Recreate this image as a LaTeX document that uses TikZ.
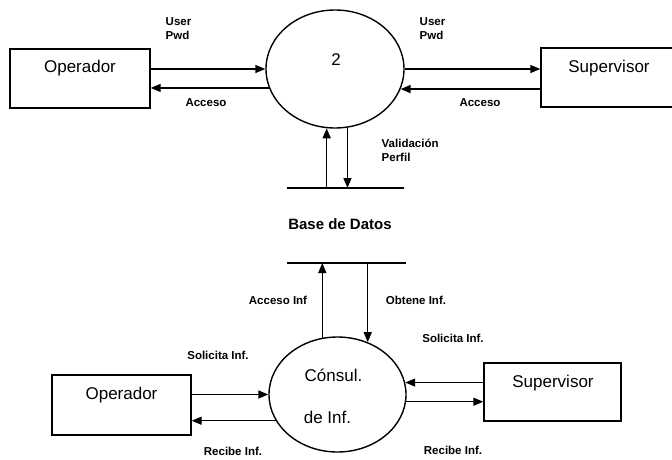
\documentclass[tikz,border=0pt]{standalone}
\usepackage{fontspec}
\setmainfont{Liberation Sans}
\usetikzlibrary{shapes.geometric,arrows.meta}
\begin{document}
\begin{tikzpicture}[x=1pt,y=-1pt, line width=1.4pt,
  flow/.style={-{Triangle[length=10pt,width=8pt]}},
  box/.style={draw,rectangle,inner sep=0pt},
  proc/.style={draw,ellipse,inner sep=0pt},
  big/.style={font=\fontsize{17}{20}\selectfont, inner sep=0pt},
  lbl/.style={font=\bfseries\fontsize{11.5}{14}\selectfont, align=left, inner sep=0pt},
  store/.style={font=\bfseries\fontsize{15}{18}\selectfont, inner sep=0pt}]
\useasboundingbox (0,0) rectangle (672,460);

% ---------- top diagram ----------
\node[box, minimum width=140pt, minimum height=59pt] (opT) at (80,78.5) {};
\node[big] (opTt) at (80,68) {Operador};
\node[proc, minimum width=138pt, minimum height=118pt] (p2) at (335,69) {};
\node[big] (p2t) at (336,60) {2};
\node[box, minimum width=133pt, minimum height=59pt] (supT) at (607.5,77.5) {};
\node[big] (supTt) at (609,68) {Supervisor};

\coordinate (dsTl) at (287,188);
\coordinate (dsTr) at (404,188);
\draw (dsTl) -- (dsTr);

\draw[flow] (opT.east |- p2.west) -- (p2.west);
\draw[flow] (p2.196.2) -- (p2.196.2 -| opT.east);
\draw[flow] (p2.east) -- (p2.east -| supT.west);
\draw[flow] (p2.343.8 -| supT.west) -- (p2.343.8);
\draw[flow] (p2.262.2 |- dsTl) -- (p2.262.2);
\draw[flow] (p2.282.7) -- (p2.282.7 |- dsTl);

\node[lbl, anchor=west] (lUP1) at (165,29) {User\\Pwd};
\node[lbl] (lAc1) at (206,103) {Acceso};
\node[lbl, anchor=west] (lUP2) at (419,29) {User\\Pwd};
\node[lbl] (lAc2) at (480,103) {Acceso};
\node[lbl, anchor=west] (lVal) at (381,150) {Validación\\Perfil};

\node[store] (bd) at (340,224) {Base de Datos};

% ---------- bottom diagram ----------
\coordinate (dsBl) at (287,263);
\coordinate (dsBr) at (406,263);
\draw (dsBl) -- (dsBr);

\node[box, minimum width=139pt, minimum height=60pt] (opB) at (121.5,405) {};
\node[big] (opBt) at (121.5,395) {Operador};
\node[proc, minimum width=137pt, minimum height=115pt] (pc) at (337.5,394.5) {};
\node[big] (pct1) at (333.5,375) {Cónsul.};
\node[big] (pct2) at (327.5,417) {de Inf.};
\node[box, minimum width=137pt, minimum height=58pt] (supB) at (552.5,392) {};
\node[big] (supBt) at (553,383) {Supervisor};

\draw[flow] (opB.east |- pc.west) -- (pc.west);
\draw[flow] (pc.203) -- (pc.203 -| opB.east);
\draw[flow] (pc.10.2 -| supB.west) -- (pc.10.2);
\draw[flow] (pc.354.1) -- (pc.354.1 -| supB.west);
\draw[flow] (pc.105.5) -- (pc.105.5 |- dsBl);
\draw[flow] (pc.60.4 |- dsBl) -- (pc.60.4);

\node[lbl] (lAI) at (278,300) {Acceso Inf};
\node[lbl] (lOI) at (416,300) {Obtene Inf.};
\node[lbl] (lSI1) at (218,355) {Solicita Inf.};
\node[lbl] (lRI1) at (233,451) {Recibe Inf.};
\node[lbl] (lSI2) at (453,338) {Solicita Inf.};
\node[lbl] (lRI2) at (453,450) {Recibe Inf.};
\end{tikzpicture}
\end{document}
